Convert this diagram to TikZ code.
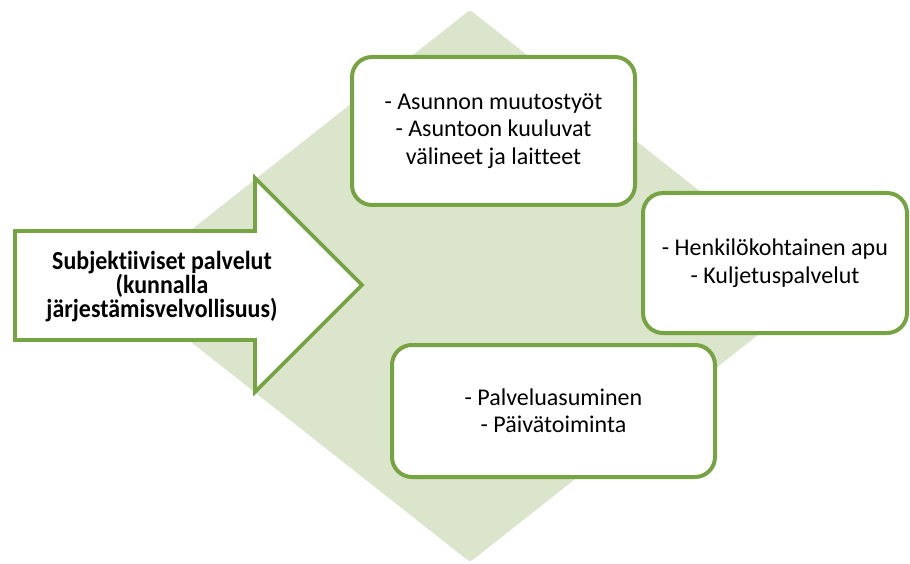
\documentclass[tikz,border=0pt]{standalone}
\usepackage{fontspec}
\setmainfont{Carlito}[Ligatures=NoCommon]
\newfontfamily\titlefont{Carlito}[FakeStretch=0.92,Ligatures=NoCommon]
\usepackage{tikz}
\usetikzlibrary{positioning}
\usetikzlibrary{calc}
\definecolor{leafgreen}{HTML}{77A443}
\definecolor{palegreen}{HTML}{DAE5CC}
\tikzset{
    service diagram/.style={
            x=1pt,y=-1pt,
            box/.style={draw=leafgreen,line width=4pt,fill=white,rounded corners=20pt,
                    align=center,font=\fontsize{24}{27.5}\selectfont,inner sep=0pt},
            backdrop/.style={fill=palegreen,rounded corners=3pt},
            bigarrow/.style={draw=leafgreen,line width=3.6pt,fill=white,line join=miter},
            title/.style={align=center,font=\titlefont\bfseries\fontsize{26}{24}\selectfont}
        }
    }
\begin{document}
\begin{tikzpicture}[service diagram]
        \useasboundingbox (0,0) rectangle (910,564);
        \fill [backdrop] (470,10) -- (820,286) -- (470,562) -- (120,286) -- cycle;
        \draw [bigarrow] (15,231) -- (255,231) -- (255,178) -- (362,285)
            -- (255,392) -- (255,340) -- (15,340) -- cycle;
        \node (subj) [title] at (162,287) {Subjektiiviset palvelut\\(kunnalla\\järjestämisvelvollisuus)};
        \node (koti) [box, minimum width=283pt, minimum height=148pt] at (493.5,131)
            {- Asunnon muutostyöt\\- Asuntoon kuuluvat\\välineet ja laitteet};
        \node (apu) [box, minimum width=264pt, minimum height=140pt] at (775,263)
            {- Henkilökohtainen apu\\- Kuljetuspalvelut};
        \node (asum) [box, minimum width=323pt, minimum height=132pt] at (553.5,411)
            {- Palveluasuminen\\- Päivätoiminta};
    \end{tikzpicture}
\end{document}
